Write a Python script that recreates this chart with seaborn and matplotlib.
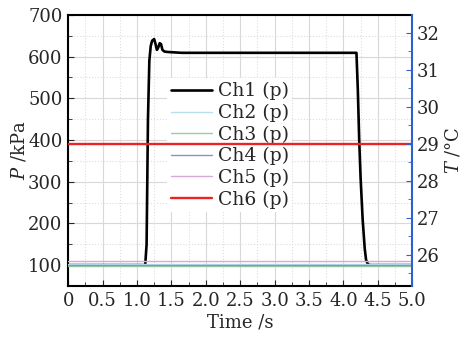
import matplotlib
matplotlib.use("Agg")
import matplotlib.pyplot as plt
import numpy as np
import pandas as pd
import seaborn as sns
from matplotlib.ticker import MultipleLocator

# pressure traces
ch1_t = [0, 1.12, 1.14, 1.16, 1.18, 1.20, 1.22, 1.25, 1.27, 1.29, 1.31, 1.33, 1.35,
         1.37, 1.40, 1.45, 1.65, 4.19, 4.21, 4.23, 4.25, 4.28, 4.31, 4.33, 4.36, 4.40, 5.0]
ch1_p = [100, 100, 150, 450, 590, 625, 638, 642, 630, 616, 622, 632, 630,
         616, 612, 611, 609, 609, 520, 400, 310, 210, 140, 112, 101, 100, 100]
flat_t = [0, 5.0]
ch2_p = [102, 102]
ch3_p = [97, 97]
ch4_p = [100, 100]
ch5_p = [109, 109]
ch6_p = [390, 390]

names = ["Ch1 (p)", "Ch2 (p)", "Ch3 (p)", "Ch4 (p)", "Ch5 (p)", "Ch6 (p)"]
colors = ["black", "#b8e0ec", "#98d098", "#8890d0", "#d8a8d8", "#ee2222"]
widths = [1.9, 1.0, 1.0, 1.0, 1.0, 1.7]

sns.set_style("ticks")
plt.rcParams['font.family'] = ['DejaVu Serif']
plt.rcParams['mathtext.fontset'] = 'dejavuserif'

fig = plt.figure(figsize=(4.7, 3.38), dpi=100)
ax = fig.add_axes([0.145, 0.154, 0.732, 0.802])

series = [(ch1_t, ch1_p), (flat_t, ch2_p), (flat_t, ch3_p),
          (flat_t, ch4_p), (flat_t, ch5_p), (flat_t, ch6_p)]
for i, (t, p) in enumerate(series):
    df = pd.DataFrame({"t": t, "p": p})
    z = 5 if i == 5 else 3
    sns.lineplot(data=df, x="t", y="p", ax=ax, color=colors[i], lw=widths[i],
                 label=names[i], zorder=z)

ax.set_xlim(0, 5)
ax.set_ylim(50, 700)
ax.xaxis.set_minor_locator(MultipleLocator(0.25))
ax.yaxis.set_major_locator(MultipleLocator(100))
ax.yaxis.set_minor_locator(MultipleLocator(50))
ax.set_xticks(np.arange(0, 5.01, 0.5))
ax.set_xticklabels(["0"] + [f"{v:.1f}" for v in np.arange(0.5, 5.01, 0.5)])
ax.grid(which="major", color="#d8d8d8", lw=0.8)
ax.grid(which="minor", color="#dddddd", lw=0.8, ls=":")
ax.tick_params(which="both", direction="in", labelsize=13, top=False)
ax.tick_params(which="major", length=4, pad=4)
ax.tick_params(which="minor", length=3)
ax.set_xlabel("Time /s", fontsize=13, labelpad=3)
ax.set_ylabel(r"$P$ /kPa", fontsize=13, labelpad=0)
for s in ["left", "top", "bottom"]:
    ax.spines[s].set_linewidth(1.5)
    ax.spines[s].set_color("black")
ax.spines["right"].set_visible(False)

ax2 = ax.twinx()
ax2.set_ylim(25.16, 32.49)
ax2.yaxis.set_major_locator(MultipleLocator(1))
ax2.yaxis.set_minor_locator(MultipleLocator(0.5))
ax2.tick_params(which="both", direction="in", labelsize=13, color="#3060d0")
ax2.tick_params(which="major", length=4, pad=3)
ax2.tick_params(which="minor", length=3)
for s in ["left", "top", "bottom"]:
    ax2.spines[s].set_visible(False)
ax2.spines["right"].set_color("#3060d0")
ax2.spines["right"].set_linewidth(1.5)
ax2.set_ylabel(r"$T$ /°C", fontsize=13, labelpad=3)

leg = ax.legend(loc="upper left", bbox_to_anchor=(0.26, 0.80), fontsize=13.5,
                frameon=True, facecolor="white", edgecolor="none", framealpha=1,
                handlelength=2.2, labelspacing=0.18, borderpad=0.2, handletextpad=0.3)
leg.set_zorder(4)

fig.savefig("out.png", dpi=100)
